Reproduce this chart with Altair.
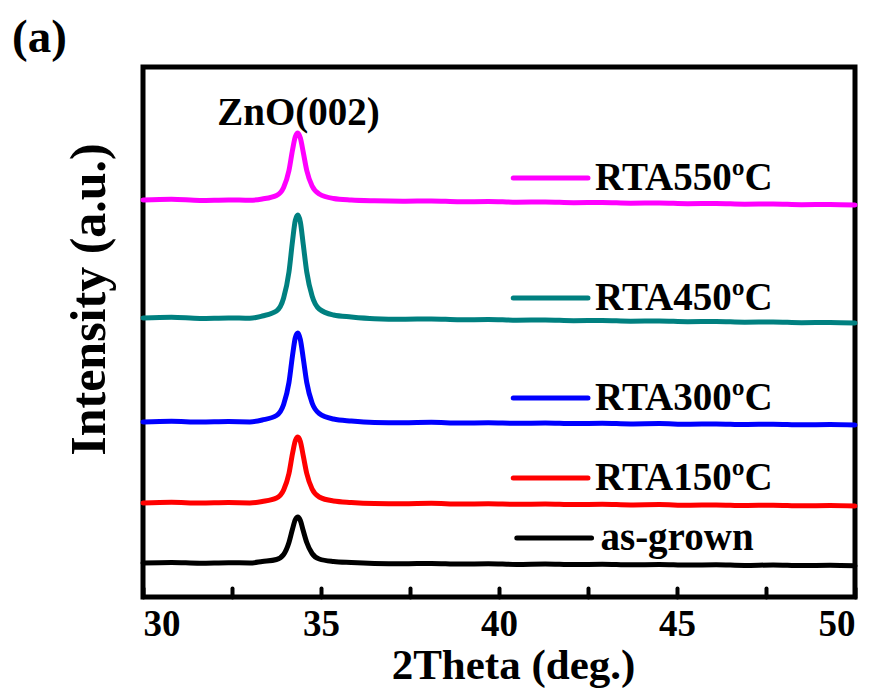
import altair as alt
import pandas as pd

# 2Theta grid (deg.)
two_theta = [30, 30.8, 31.6, 32.4, 33.0, 33.35, 33.75, 33.95, 34.1, 34.2, 34.28, 34.35,
             34.42, 34.5, 34.6, 34.75, 34.95, 35.35, 35.85, 36.5, 37.3, 38.1, 38.9, 39.7,
             40.5, 41.3, 42.1, 42.9, 43.7, 44.5, 45.3, 46.1, 46.9, 47.7, 48.5, 49.3, 50]

# Intensities (a.u., stacked offsets)
as_grown = [34, 34.6, 33.8, 34.3, 34.0,
            35.5, 37.5, 42.5, 54.5, 68, 77.5, 80, 76.5, 66.5, 54.5, 43.5, 38,
            35.5, 34.5, 33.6,
            33.2, 33.6, 32.9, 33.3, 32.6, 33.0, 32.4, 32.8, 32.2, 32.5, 31.9, 32.3, 31.6, 32.0, 31.4, 31.7,
            31.2]
rta150 = [94, 94.7, 93.9, 94.4, 94.1,
          95.5, 99, 107, 123.5, 143.5, 156.5, 160, 155.5, 141.5, 123.5, 108, 100,
          96, 94.6, 93.6,
          93.3, 93.7, 92.9, 93.2, 92.7, 93.0, 92.4, 92.7, 92.1, 92.4, 91.8, 92.1, 91.5, 91.8, 91.2, 91.5,
          91]
rta300 = [175, 175.7, 174.9, 175.4, 175.1,
          177, 181.5, 192.5, 214.5, 241.5, 259.5, 264, 257.5, 239, 214.5, 194, 183.5,
          178, 176, 174.6,
          174.3, 174.7, 173.9, 174.2, 173.7, 174.0, 173.4, 173.7, 173.1, 173.4, 172.8, 173.1, 172.5, 172.8, 172.2, 172.5,
          172]
rta450 = [279, 279.7, 278.6, 279.1, 278.7,
          281, 286, 299, 325, 356, 377, 382, 375, 353, 325, 301, 288,
          282, 280, 278.3,
          277.8, 278.1, 277.2, 277.5, 276.8, 277.0, 276.3, 276.5, 275.8, 276.0, 275.3, 275.5, 274.8, 275.0, 274.3, 274.5,
          274]
rta550 = [397, 397.7, 396.6, 397.1, 396.7,
          398, 401.5, 409.5, 426.5, 447, 460.5, 464, 459, 445, 426.5, 411, 403,
          398.5, 397, 396.2,
          395.8, 396.1, 395.2, 395.5, 394.8, 395.0, 394.3, 394.5, 393.8, 394.0, 393.3, 393.5, 392.8, 393.0, 392.3, 392.5,
          392]

series_names = ["as-grown", "RTA150\u00baC", "RTA300\u00baC", "RTA450\u00baC", "RTA550\u00baC"]
series_colors = ["#000000", "#FF0000", "#0000FF", "#008080", "#FF00FF"]
series_values = [as_grown, rta150, rta300, rta450, rta550]

# legend entries (placed next to each curve)
legend_y = [59, 119, 199, 299, 419]
legend_x1 = [40.5, 40.4, 40.4, 40.4, 40.4]
legend_x2 = [42.6, 42.5, 42.5, 42.5, 42.5]
legend_tx = [42.85, 42.7, 42.7, 42.7, 42.7]

# peak annotation
peak_label = ["ZnO(002)"]
peak_x = [34.37]
peak_y = [484]

x_ticks = [30, 32.5, 35, 37.5, 40, 42.5, 45, 47.5, 50]

FONT = "Liberation Serif"

rows = []
for name, vals in zip(series_names, series_values):
    for t, v in zip(two_theta, vals):
        rows.append({"theta": t, "intensity": v, "sample": name})
df = pd.DataFrame(rows)

leg = pd.DataFrame({"sample": series_names, "y": legend_y, "x1": legend_x1,
                    "x2": legend_x2, "tx": legend_tx})
ann = pd.DataFrame({"label": peak_label, "x": peak_x, "y": peak_y})

color = alt.Color("sample:N", scale=alt.Scale(domain=series_names, range=series_colors), legend=None)

xscale = alt.Scale(domain=[30, 50], nice=False, zero=False)
yscale = alt.Scale(domain=[0, 530], nice=False, zero=False)

xaxis = alt.Axis(
    values=x_ticks,
    labelExpr="datum.value % 5 == 0 ? datum.label : ''",
    offset=-9, tickSize=9, tickWidth=4, tickColor="black", tickCap="round",
    domain=False, grid=False,
    labelFont=FONT, labelFontSize=37, labelFontWeight="bold", labelColor="black",
    labelPadding=9,
    title="2Theta (deg.)", titleFont=FONT, titleFontSize=43, titleFontWeight="bold",
    titleColor="black", titleX=370, titleY=90, titleBaseline="alphabetic",
)
yaxis = alt.Axis(
    labels=False, ticks=False, domain=False, grid=False,
    title="Intensity (a.u.)", titleFont=FONT, titleFontSize=50, titleFontWeight="bold",
    titleColor="black", titlePadding=29, titleY=232,
)

lines = alt.Chart(df).mark_line(strokeWidth=5, interpolate="monotone", strokeCap="round",
                                strokeJoin="round").encode(
    x=alt.X("theta:Q", scale=xscale, axis=xaxis),
    y=alt.Y("intensity:Q", scale=yscale, axis=yaxis),
    color=color,
    detail="sample:N",
)

leg_lines = alt.Chart(leg).mark_rule(strokeWidth=5, strokeCap="round").encode(
    x=alt.X("x1:Q", scale=xscale),
    x2="x2:Q",
    y=alt.Y("y:Q", scale=yscale),
    color=color,
)

leg_text = alt.Chart(leg).mark_text(align="left", baseline="middle", font=FONT,
                                    fontSize=39, fontWeight="bold", color="black").encode(
    x=alt.X("tx:Q", scale=xscale),
    y=alt.Y("y:Q", scale=yscale),
    text="sample:N",
)

ann_text = alt.Chart(ann).mark_text(align="center", baseline="middle", font=FONT,
                                    fontSize=39, fontWeight="bold", color="black").encode(
    x=alt.X("x:Q", scale=xscale),
    y=alt.Y("y:Q", scale=yscale),
    text="label:N",
)

chart = alt.layer(lines, leg_lines, leg_text, ann_text).properties(
    width=712, height=530,
    background="white",
    autosize=alt.AutoSizeParams(type="none"),
    padding={"left": 135, "top": 59, "right": 16, "bottom": 92},
    title=alt.TitleParams(text="(a)", anchor="start", frame="group", dx=-131, offset=5,
                          font=FONT, fontSize=47, fontWeight="bold", color="black"),
).configure_view(stroke="black", strokeWidth=5)

chart.save("out.html", embed_options={"renderer": "svg", "actions": False})
